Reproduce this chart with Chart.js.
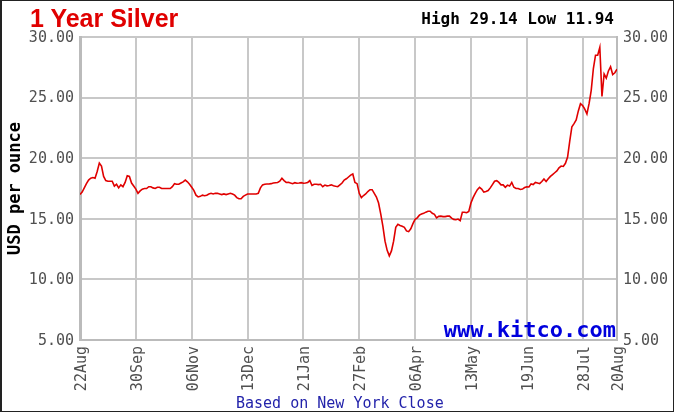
<!DOCTYPE html>
<html>
<head>
<meta charset="utf-8">
<script src="https://cdn.jsdelivr.net/npm/chart.js@4.4.1/dist/chart.umd.min.js"></script>
<style>
  html, body { margin: 0; padding: 0; background: #fff; }
  #wrap { position: relative; width: 674px; height: 412px; overflow: hidden; }
  #wrap canvas { position: absolute; left: 0; top: 0; }
  .frame { position: absolute; left: 0; top: 0; width: 674px; height: 412px;
           box-sizing: border-box; border: 1px solid #222; border-left-width: 2px; pointer-events: none; }
  .txt { position: absolute; white-space: nowrap; }
  #title { left: 30px; top: 6px; font: bold 25px/25px "Liberation Sans", Arial, sans-serif; color: #e00000; }
  #hilo { right: 60px; top: 11px; font: bold 16px/16px "DejaVu Sans Mono", monospace; color: #000; }
  #kitco { right: 58px; top: 319px; font: bold 22px/22px "DejaVu Sans Mono", monospace; color: #0000dd; }
  #basis { left: 236px; top: 396px; font: 15px/15px "DejaVu Sans Mono", monospace; color: #2222aa; }
</style>
</head>
<body>
<div id="wrap">
  <canvas id="chart" width="674" height="412"></canvas>
  <div class="txt" id="title">1 Year Silver</div>
  <div class="txt" id="hilo">High 29.14 Low 11.94</div>
  <div class="txt" id="kitco">www.kitco.com</div>
  <div class="txt" id="basis">Based on New York Close</div>
  <div class="frame"></div>
</div>
<script>
/* ── Data (USD per ounce, one value per trading day) ── */
const tickIdx    = [0, 26, 52, 78, 104, 130, 156, 182, 208, 234, 250];
const tickLabels = ["22Aug", "30Sep", "06Nov", "13Dec", "21Jan", "27Feb", "06Apr", "13May", "19Jun", "28Jul", "20Aug"];
const yTicks     = [5, 10, 15, 20, 25, 30];

const prices = [
  17.0, 17.2, 17.55, 17.9, 18.2, 18.35, 18.4, 18.35, 18.9, 19.6,
  19.35, 18.5, 18.15, 18.1, 18.1, 18.1, 17.7, 17.85, 17.55, 17.8,
  17.65, 18.0, 18.55, 18.5, 17.95, 17.7, 17.45, 17.1, 17.3, 17.45,
  17.5, 17.5, 17.65, 17.65, 17.55, 17.5, 17.6, 17.6, 17.5, 17.5,
  17.5, 17.5, 17.5, 17.65, 17.9, 17.85, 17.85, 17.95, 18.05, 18.2,
  18.05, 17.85, 17.6, 17.35, 16.95, 16.8, 16.85, 16.95, 16.9, 16.95,
  17.05, 17.1, 17.05, 17.1, 17.1, 17.05, 17.0, 17.05, 17.0, 17.05,
  17.1, 17.05, 16.95, 16.75, 16.65, 16.65, 16.85, 16.95, 17.05, 17.05,
  17.05, 17.05, 17.05, 17.1, 17.55, 17.8, 17.85, 17.87, 17.87, 17.9,
  17.95, 17.98, 18.0, 18.1, 18.34, 18.15, 18.0, 18.02, 17.95, 17.9,
  17.98, 17.93, 17.95, 17.98, 17.93, 17.95, 18.0, 18.15, 17.75, 17.85,
  17.85, 17.82, 17.85, 17.65, 17.78, 17.72, 17.75, 17.8, 17.72, 17.68,
  17.65, 17.8, 17.95, 18.2, 18.3, 18.45, 18.6, 18.7, 18.0, 17.9,
  17.1, 16.75, 16.92, 17.05, 17.25, 17.4, 17.4, 17.1, 16.8, 16.3,
  15.4, 14.4, 13.15, 12.4, 11.94, 12.35, 13.15, 14.3, 14.55, 14.45,
  14.38, 14.3, 14.0, 13.94, 14.18, 14.6, 14.95, 15.08, 15.3, 15.4,
  15.45, 15.55, 15.62, 15.62, 15.45, 15.37, 15.08, 15.2, 15.22, 15.18,
  15.18, 15.22, 15.22, 15.05, 14.95, 14.92, 14.98, 14.85, 15.54, 15.54,
  15.5, 15.6, 16.3, 16.75, 17.1, 17.4, 17.6, 17.45, 17.2, 17.25,
  17.33, 17.55, 17.82, 18.1, 18.15, 18.0, 17.8, 17.8, 17.6, 17.78,
  17.7, 18.0, 17.6, 17.5, 17.5, 17.42, 17.45, 17.58, 17.63, 17.62,
  17.88, 17.82, 18.0, 17.95, 17.9, 18.08, 18.28, 18.08, 18.3, 18.5,
  18.65, 18.8, 18.95, 19.2, 19.35, 19.32, 19.58, 20.1, 21.4, 22.6,
  22.85, 23.15, 23.9, 24.5, 24.35, 24.05, 23.65, 24.5, 25.6, 27.4,
  28.5, 28.5, 29.14, 25.1, 26.95, 26.6, 27.2, 27.55, 26.9, 27.05,
  27.35
];

/* ── Styles ─────────────────────────────────────────── */
const GRID = "#c8c8c8";
const TICK_COLOR = "#505050";
const TICK_FONT = { family: "DejaVu Sans Mono", size: 15 };

function yAxis(position, width, showGrid) {
  return {
    type: "linear",
    position,
    min: 5,
    max: 30,
    afterBuildTicks: s => { s.ticks = yTicks.map(v => ({ value: v })); },
    afterFit: s => { s.width = width; },
    ticks: { color: TICK_COLOR, font: TICK_FONT, padding: 6, labelOffset: 1, callback: v => v.toFixed(2) },
    grid: { display: showGrid, color: GRID, lineWidth: 2, drawTicks: false },
    border: { display: true, color: "#bbb", width: position === "left" ? 3 : 2 }
  };
}

const left = yAxis("left", 80, true);
left.title = {
  display: true,
  text: "USD per ounce",
  color: "#000",
  font: { family: "DejaVu Sans Mono", size: 17, weight: "bold" },
  padding: { top: 5, bottom: 0 }
};

new Chart(document.getElementById("chart"), {
  type: "line",
  data: {
    datasets: [{
      data: prices.map((v, i) => ({ x: i, y: v })),
      borderColor: "#e00000",
      borderWidth: 1.6,
      pointRadius: 0,
      tension: 0,
      fill: false,
      yAxisID: "y"
    }]
  },
  options: {
    responsive: false,
    animation: false,
    layout: { padding: { top: 37, left: 0, right: 0, bottom: 0 } },
    plugins: { legend: { display: false }, tooltip: { enabled: false } },
    scales: {
      x: {
        type: "linear",
        min: 0,
        max: prices.length - 1,
        afterBuildTicks: s => { s.ticks = tickIdx.map(v => ({ value: v })); },
        afterFit: s => { s.height = 72; },
        ticks: {
          color: TICK_COLOR,
          font: TICK_FONT,
          padding: 6,
          labelOffset: 2,
          minRotation: 90,
          maxRotation: 90,
          autoSkip: false,
          callback: (v, i) => tickLabels[i]
        },
        grid: { color: GRID, lineWidth: 2, drawTicks: false },
        border: { display: true, color: "#bbb", width: 2 }
      },
      y: left,
      y2: yAxis("right", 57, false)
    }
  }
});
</script>
</body>
</html>
